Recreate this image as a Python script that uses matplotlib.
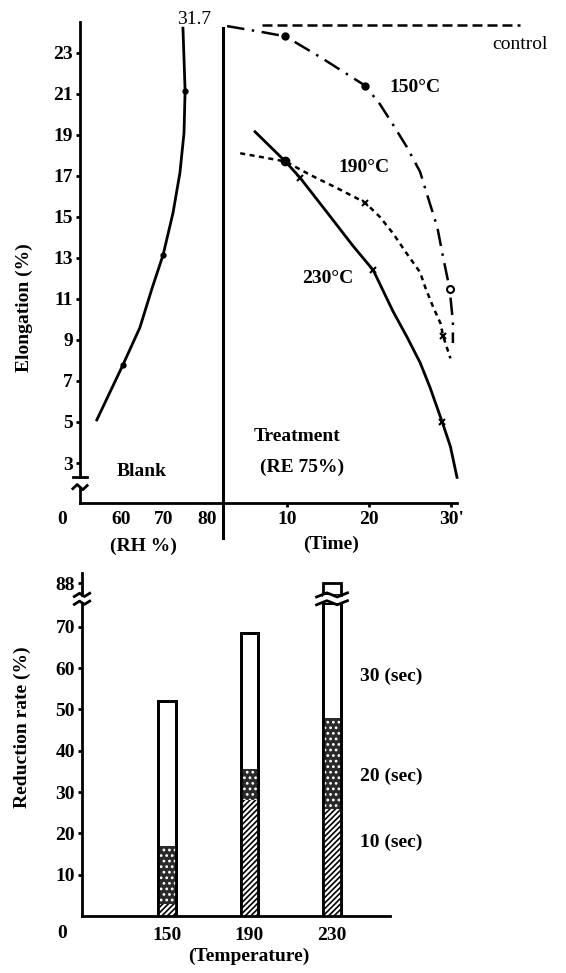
import matplotlib.pyplot as plt
import numpy as np

plt.rcParams['font.family'] = 'Liberation Serif'
plt.rcParams['font.weight'] = 'bold'
plt.rcParams['font.size'] = 14
plt.rcParams['hatch.linewidth'] = 1.2

# --- elongation, blank (vs RH %) ---
rh_curve = [54.4, 60.5, 64.4, 67.2, 69.8, 72.1, 73.7, 74.65, 74.9, 74.65, 74.4]
el_curve = [5.1, 7.8, 9.6, 11.5, 13.15, 15.2, 17.15, 19.1, 21.15, 22.7, 24.2]
rh_pts = [60.5, 69.8, 74.9]
el_pts = [7.8, 13.15, 21.15]

# --- elongation after treatment (vs time) ---
t_ctrl = [7.0, 38.4]
e_ctrl = [24.35, 24.35]
t150 = [2.7, 7.1, 9.8, 14.0, 19.5, 21.3, 22.9, 24.6, 26.2, 27.2, 28.3, 29.0, 29.8, 30.2, 30.2]
e150 = [24.3, 24.0, 23.8, 22.8, 21.4, 20.5, 19.5, 18.4, 17.2, 15.9, 14.5, 13.05, 11.5, 9.9, 8.85]
t190 = [4.3, 7.1, 9.8, 12.8, 16.1, 19.5, 21.3, 22.9, 24.6, 26.2, 26.8, 27.8, 28.7, 29.0, 29.9]
e190 = [18.1, 17.9, 17.7, 17.05, 16.4, 15.7, 15.0, 14.2, 13.2, 12.3, 11.6, 10.6, 9.8, 9.2, 8.1]
t230 = [6.1, 9.8, 11.6, 15.2, 18.0, 20.5, 22.9, 24.6, 26.2, 27.4, 28.9, 29.9, 30.7]
e230 = [19.15, 17.7, 16.9, 15.05, 13.6, 12.4, 10.4, 9.15, 7.9, 6.7, 5.0, 3.8, 2.3]

m150_t, m150_e = [9.8, 19.5], [23.8, 21.4]
m150_open = (29.8, 11.5)
m190_dot = (9.8, 17.7)
m190_t, m190_e = [19.5, 29.0], [15.7, 9.2]
m230_t, m230_e = [11.6, 20.5, 28.9], [16.9, 12.4, 5.0]

# --- reduction rate by temperature ---
temps = [150, 190, 230]
red_10s = [3, 28, 26]
red_20s = [17, 35.5, 48]
red_30s = [52, 68.5, 88]


def brk(v):
    # compress values above the axis break
    return v if v < 75 else 80.5 + (v - 88) * 0.2


def px(x, y):
    return x / 566, 1 - y / 973


def break_mark(ax, x0, y0, dx, dy, lw=1.8):
    xs = [x0 - dx, x0 - dx / 3, x0 + dx / 3, x0 + dx]
    ys = [y0 - dy, y0 + dy, y0 - dy, y0 + dy]
    ax.plot(xs, ys, color='black', lw=lw, clip_on=False, zorder=6)


fig = plt.figure(figsize=(5.66, 9.73), dpi=100)

ax1 = fig.add_axes([80 / 566, 1 - 503 / 973, 143 / 566, 481 / 973])
ax2 = fig.add_axes([223 / 566, 1 - 503 / 973, 234 / 566, 481 / 973])
ylo, yhi = 1.05, 24.5
for ax in (ax1, ax2):
    ax.set_ylim(ylo, yhi)
    ax.spines['top'].set_visible(False)
    ax.spines['right'].set_visible(False)
    ax.spines['left'].set_visible(False)
    ax.spines['bottom'].set_linewidth(2)
    ax.patch.set_alpha(0)

# blank panel
ax1.set_xlim(50.5, 83.7)
ax1.plot(rh_curve, el_curve, color='black', lw=2)
ax1.plot(rh_pts, el_pts, 'o', color='black', ms=3.5)
ax1.set_yticks(range(3, 24, 2))
ax1.set_xticks([60, 70, 80])
ax1.tick_params(axis='y', direction='out', length=3, width=2, pad=2)
ax1.tick_params(axis='x', direction='out', length=0, pad=6)
ytr = ax1.get_yaxis_transform()
ax1.plot([0, 0], [ylo, 1.8], color='black', lw=2, transform=ytr, clip_on=False)
ax1.plot([0, 0], [2.3, yhi], color='black', lw=2, transform=ytr, clip_on=False)
ax1.plot([-0.05, 0.05], [2.3, 2.3], color='black', lw=2, transform=ytr, clip_on=False)
ax1.plot([-0.05, -0.02, 0.02, 0.05], [1.75, 1.95, 1.7, 1.9], color='black', lw=2,
         transform=ytr, clip_on=False)
ax1.text(64.9, 2.6, 'Blank', ha='center', va='center')
fig.text(*px(194, 20), '31.7', ha='center', va='center', fontweight='normal')

# treatment panel
ax2.set_xlim(2.2, 30.7)
ax2.set_yticks([])
ax2.set_xticks([10, 20, 30])
ax2.set_xticklabels(['10', '20', "30'"])
ax2.tick_params(axis='x', direction='out', length=3, width=2, pad=3)
ax2.plot([0, 0], [-0.073, 0.9875], color='black', lw=2.2, transform=ax2.transAxes,
         clip_on=False)
ax2.plot(t_ctrl, e_ctrl, color='black', lw=1.8, ls=(0, (4, 2)), clip_on=False)
ax2.plot(t150, e150, color='black', lw=1.8, ls=(0, (7, 3, 1, 3)), clip_on=False)
ax2.plot(t190, e190, color='black', lw=1.8, ls=(0, (2, 1.8)), clip_on=False)
ax2.plot(t230, e230, color='black', lw=2, clip_on=False)
ax2.plot(m150_t, m150_e, 'o', color='black', ms=5)
ax2.plot(*m150_open, 'o', mfc='white', mec='black', mew=1.5, ms=5, clip_on=False)
ax2.plot(*m190_dot, 'o', color='black', ms=6)
ax2.plot(m190_t, m190_e, 'x', color='black', ms=5, mew=1.5, clip_on=False)
ax2.plot(m230_t, m230_e, 'x', color='black', ms=5, mew=1.5, clip_on=False)

ax2.text(25.6, 21.3, '150°C', ha='center', va='center')
ax2.text(19.4, 17.4, '190°C', ha='center', va='center')
ax2.text(14.9, 12.0, '230°C', ha='center', va='center')
ax2.text(38.4, 23.4, 'control', ha='center', va='center', fontsize=14,
         fontweight='normal', clip_on=False)
ax2.text(11.2, 4.3, 'Treatment', ha='center', va='center')
ax2.text(11.8, 2.8, '(RE 75%)', ha='center', va='center')

fig.text(*px(62, 520), '0', ha='center', va='center')
fig.text(*px(143, 546), '(RH %)', ha='center', va='center')
fig.text(*px(331, 544), '(Time)', ha='center', va='center')
fig.text(*px(24, 308), 'Elongation (%)', rotation=90, ha='center', va='center')

# bar chart
ax3 = fig.add_axes([82 / 566, 1 - 916 / 973, 308 / 566, 343 / 973])
ax3.set_xlim(108.8, 258.1)
ax3.set_ylim(0, 83)
for s in ('top', 'right', 'left'):
    ax3.spines[s].set_visible(False)
ax3.spines['bottom'].set_linewidth(2)
bw = 8.5
gap_lo, gap_hi = 75.8, 77.7
for t, a, b, c in zip(temps, red_10s, red_20s, red_30s):
    top = brk(c)
    if c > 75:
        ax3.bar(t, gap_lo, bw, color='white', edgecolor='black', lw=2, zorder=2)
        ax3.bar(t, top - gap_hi, bw, bottom=gap_hi, color='white', edgecolor='black',
                lw=2, zorder=2)
        ax3.bar(t, gap_hi - gap_lo, bw, bottom=gap_lo, color='white', lw=0, zorder=5)
        break_mark(ax3, t, gap_lo, 7.5, 0.5, lw=2)
        break_mark(ax3, t, gap_hi, 7.5, 0.5, lw=2)
    else:
        ax3.bar(t, top, bw, color='white', edgecolor='black', lw=2, zorder=2)
    ax3.bar(t, b, bw, color='#2a2a2a', edgecolor='white', hatch='...', lw=0, zorder=3)
    ax3.bar(t, a, bw, color='white', edgecolor='black', hatch='//////', lw=0, zorder=3)
    ax3.bar(t, min(top, gap_lo), bw, color='none', edgecolor='black', lw=2, zorder=4)

ax3.set_xticks(temps)
ax3.tick_params(axis='x', length=0, pad=8)
ax3.set_yticks(list(range(10, 71, 10)) + [brk(88)])
ax3.set_yticklabels([str(v) for v in range(10, 71, 10)] + ['88'])
ax3.tick_params(axis='y', direction='out', length=3, width=2, pad=2)
ytr3 = ax3.get_yaxis_transform()
ax3.plot([0, 0], [0, gap_lo], color='black', lw=2, transform=ytr3, clip_on=False)
ax3.plot([0, 0], [gap_hi, 83], color='black', lw=2, transform=ytr3, clip_on=False)
ax3.plot([-0.025, -0.008, 0.008, 0.025], [gap_lo - 0.4, gap_lo + 0.4, gap_lo - 0.4, gap_lo + 0.4],
         color='black', lw=2, transform=ytr3, clip_on=False)
ax3.plot([-0.025, -0.008, 0.008, 0.025], [gap_hi - 0.4, gap_hi + 0.4, gap_hi - 0.4, gap_hi + 0.4],
         color='black', lw=2, transform=ytr3, clip_on=False)

ax3.text(243.6, 57.9, '30 (sec)', ha='left', va='center', clip_on=False)
ax3.text(243.6, 33.7, '20 (sec)', ha='left', va='center', clip_on=False)
ax3.text(243.6, 17.9, '10 (sec)', ha='left', va='center', clip_on=False)

fig.text(*px(62, 933), '0', ha='center', va='center')
fig.text(*px(249, 956), '(Temperature)', ha='center', va='center')
fig.text(*px(22, 727), 'Reduction rate (%)', rotation=90, ha='center', va='center')

fig.savefig('out.png', dpi=100)
